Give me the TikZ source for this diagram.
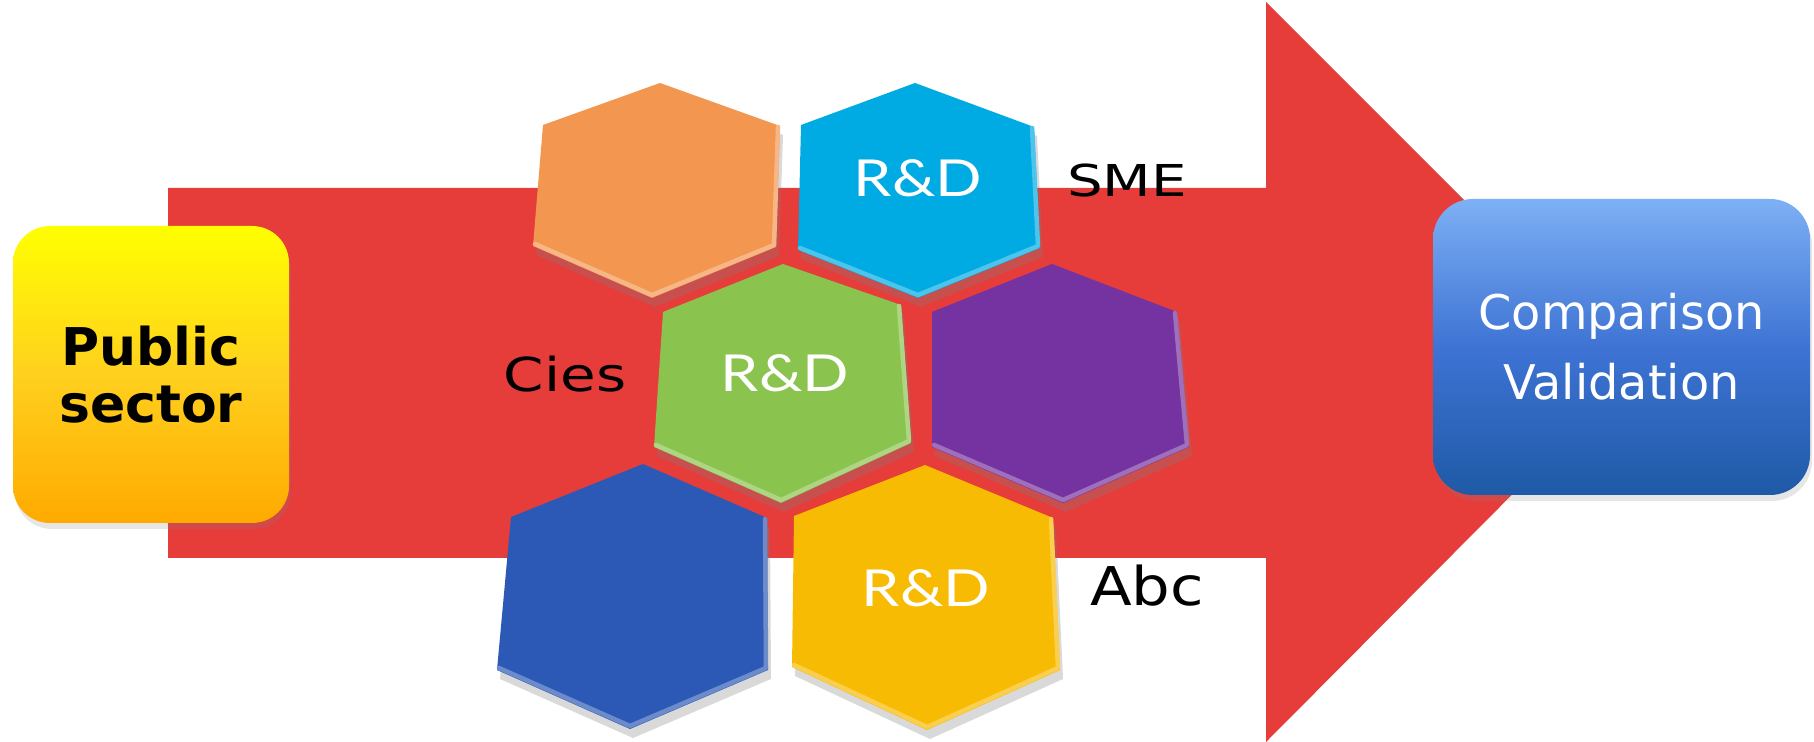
\documentclass[tikz,border=0pt]{standalone}
\usepackage{fontspec}
\setmainfont{DejaVu Sans}
\newfontfamily\rdfont{Lato}
\usetikzlibrary{shadows}
\definecolor{arrowred}{RGB}{230,60,58}
\definecolor{hexorange}{RGB}{242,150,80}
\definecolor{hexcyan}{RGB}{0,170,226}
\definecolor{hexgreen}{RGB}{139,195,79}
\definecolor{hexpurple}{RGB}{116,51,160}
\definecolor{hexblue}{RGB}{44,89,181}
\definecolor{hexyellow}{RGB}{248,187,3}
\tikzset{
  pubbox/.style={rounded corners=3.7mm,minimum width=27.6mm,minimum height=29.7mm,inner sep=0pt,
    top color={rgb,255:red,255;green,255;blue,0},bottom color={rgb,255:red,255;green,170;blue,0},
    middle color={rgb,255:red,255;green,208;blue,30},align=center,
    font=\bfseries\fontsize{14.8}{16.2}\selectfont,
    drop shadow={shadow xshift=.2mm,shadow yshift=-.6mm,opacity=.2}},
  cmpbox/.style={rounded corners=4mm,minimum width=37.7mm,minimum height=29.6mm,inner sep=0pt,
    top color={rgb,255:red,125;green,176;blue,244},bottom color={rgb,255:red,30;green,90;blue,166},
    middle color={rgb,255:red,62;green,115;blue,212},align=center,text=white,
    font=\fontsize{13.6}{19.9}\selectfont,
    drop shadow={shadow xshift=.2mm,shadow yshift=-.6mm,opacity=.2}},
  hexcell/.style={drop shadow={shadow xshift=.3mm,shadow yshift=-.9mm,opacity=.3}},
  bevel/.style={line width=.45mm,line join=round,line cap=round},
  rdtag/.style={anchor=base,text=white,inner sep=0pt,transform shape,font=\rdfont\fontsize{14.5}{14.5}\selectfont},
  sidetag/.style={anchor=base,inner sep=0pt,transform shape}
}
\begin{document}
\begin{tikzpicture}[x=0.1mm,y=-0.1mm]
\useasboundingbox (0,0) rectangle (1814,742);
\fill[arrowred] (168,188)--(1266,188)--(1266,2)--(1635,371)--(1266,742)--(1266,558)--(168,558)--cycle;
\node[pubbox] (pub) at (151,374.5) {Public\\sector};
\node[cmpbox] (cmp) at (1621.5,347) {Comparison\\Validation};

\fill[hexcell,hexorange] (660,83)--(780,126)--(776,247)--(652,298)--(533,246)--(543,125)--cycle;
\draw[bevel,hexorange!70!white] (535,244)--(652,295)--(774,245)--(778,127);
\fill[hexcell,hexcyan] (915,83)--(1034,127)--(1040,248)--(918,298)--(798,250)--(801,125)--cycle;
\draw[bevel,hexcyan!70!white] (800,248)--(918,295)--(1038,246)--(1032,128);
\fill[hexcell,hexgreen] (783,264)--(901,305)--(911,443)--(781,503)--(654,447)--(663,312)--cycle;
\draw[bevel,hexgreen!70!white] (656,445)--(781,500)--(909,441)--(899,306);
\fill[hexcell,hexpurple] (1052,264)--(1177,312)--(1189,447)--(1063,503)--(932,447)--(932,312)--cycle;
\draw[bevel,hexpurple!70!white] (934,445)--(1063,500)--(1187,445)--(1175,313);
\fill[hexcell,hexblue] (643,464)--(767,518)--(768,670)--(630,729)--(497,670)--(511,517)--cycle;
\draw[bevel,hexblue!70!white] (499,668)--(630,726)--(766,668)--(765,519);
\fill[hexcell,hexyellow] (925,465)--(1053,518)--(1060,670)--(927,730)--(792,667)--(794,516)--cycle;
\draw[bevel,hexyellow!70!white] (794,665)--(927,727)--(1058,668)--(1051,519);

\node[rdtag,xscale=1.2] (rdsme) at (918,197) {R\&D};
\node[rdtag,xscale=1.2] (rdcies) at (785,392) {R\&D};
\node[rdtag,xscale=1.2] (rdabc) at (926,607) {R\&D};
\node[sidetag,xscale=1.28,font=\fontsize{12.5}{12.5}\selectfont] (sme) at (1127,197) {SME};
\node[sidetag,xscale=1.24,font=\fontsize{13.3}{13.3}\selectfont] (cies) at (565,392) {Cies};
\node[sidetag,xscale=1.14,font=\fontsize{15.2}{15.2}\selectfont] (abc) at (1147,606) {Abc};
\end{tikzpicture}
\end{document}
